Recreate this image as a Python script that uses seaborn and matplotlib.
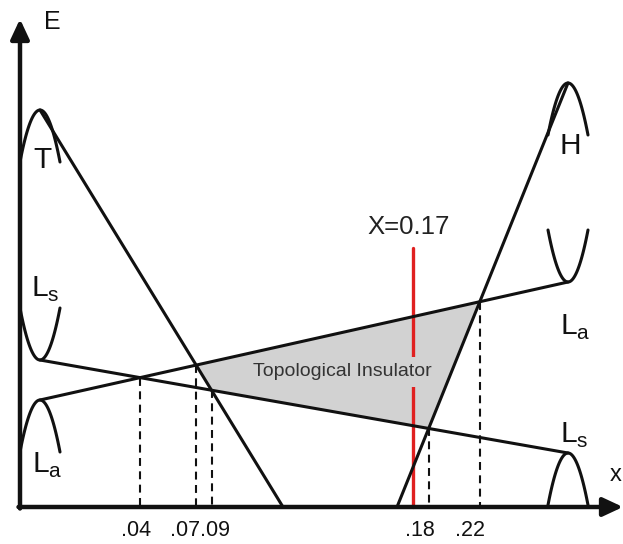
import numpy as np
import pandas as pd
import matplotlib
matplotlib.use("Agg")
import matplotlib.pyplot as plt
import seaborn as sns

# ---- schematic data (u: composition axis, E: energy, arbitrary units) ----
band_names = ["T", "H", "Ls", "La"]
band_u0 = [20, 377, 20, 20]
band_E0 = [397, 0, 147, 107]
band_u1 = [263, 548, 548, 548]
band_E1 = [0, 424, 54, 225]

# parabolic band extrema: vertex and opening (+1 up, -1 down)
para_u = [20, 548, 20, 20, 548, 548]
para_E = [397, 424, 147, 107, 225, 54]
para_dir = [-1, -1, 1, -1, 1, -1]
para_halfwidth = 20
para_depth = 52

# band crossings marked with dashed lines
cross_pairs = [("Ls", "La"), ("T", "La"), ("T", "Ls"), ("H", "Ls"), ("H", "La")]
tick_labels = [".04", ".07", ".09", ".18", ".22"]
tick_label_u = [116, 165, 195, 400, 450]

# topological-insulator region bounded by these crossings
region_pairs = [("T", "La"), ("H", "La"), ("H", "Ls"), ("T", "Ls")]

red_u = 393
red_top = 259
red_label = "X=0.17"

band_labels = ["T", "H", r"L$_\mathregular{s}$", r"L$_\mathregular{a}$",
               r"L$_\mathregular{a}$", r"L$_\mathregular{s}$"]
band_label_u = [22, 550, 11, 12, 540, 540]
band_label_E = [347, 361, 210, 34, 172, 64]
band_label_ha = ["center", "center", "left", "left", "left", "left"]
band_label_va = ["center", "center", "baseline", "baseline", "baseline", "baseline"]

# ---- style ----
sns.set_theme(style="white")
plt.rcParams["font.family"] = ["Liberation Sans", "DejaVu Sans"]
plt.rcParams["mathtext.fontset"] = "custom"
plt.rcParams["mathtext.rm"] = "Liberation Sans"

fig = plt.figure(figsize=(6.23, 5.44), dpi=100)
ax = fig.add_axes([0, 0, 1, 1])
ax.set_xlim(-20, 603)
ax.set_ylim(-37, 507)
ax.set_axis_off()

LW = 2.2
ink = "#111111"

# straight bands
bands = {n: ((a, b), (c, d)) for n, a, b, c, d in zip(band_names, band_u0, band_E0, band_u1, band_E1)}
rows = []
for n, ((a, b), (c, d)) in bands.items():
    rows += [dict(seg=n, u=a, E=b), dict(seg=n, u=c, E=d)]
df_lines = pd.DataFrame(rows)
sns.lineplot(data=df_lines, x="u", y="E", units="seg", estimator=None, sort=False,
             color=ink, lw=LW, ax=ax, zorder=5, legend=False)

# parabolic extrema
rows = []
for i, (pu, pe, pdn) in enumerate(zip(para_u, para_E, para_dir)):
    uu = np.linspace(max(pu - para_halfwidth, 0), pu + para_halfwidth, 60)
    ee = pe + pdn * para_depth * ((uu - pu) / para_halfwidth) ** 2
    rows += [dict(seg=i, u=a, E=b) for a, b in zip(uu, ee)]
df_para = pd.DataFrame(rows)
sns.lineplot(data=df_para, x="u", y="E", units="seg", estimator=None, sort=False,
             color=ink, lw=LW, ax=ax, zorder=5, legend=False)


def cross(n1, n2):
    (a1, b1), (c1, d1) = bands[n1]
    (a2, b2), (c2, d2) = bands[n2]
    m1 = (d1 - b1) / (c1 - a1)
    m2 = (d2 - b2) / (c2 - a2)
    u = (b2 - b1 + m1 * a1 - m2 * a2) / (m1 - m2)
    return u, b1 + m1 * (u - a1)


# shaded region
poly = np.array([cross(*p) for p in region_pairs])
ax.fill(poly[:, 0], poly[:, 1], color="#d2d2d2", lw=0, zorder=1)

# dashed crossing markers
rows = []
for i, p in enumerate(cross_pairs):
    cu, ce = cross(*p)
    rows += [dict(seg=i, u=cu, E=ce), dict(seg=i, u=cu, E=0)]
df_dash = pd.DataFrame(rows)
sns.lineplot(data=df_dash, x="u", y="E", units="seg", estimator=None, sort=False,
             color=ink, lw=1.5, ax=ax, zorder=4, legend=False,
             linestyle=(0, (3.8, 2.6)))

# red composition line
df_red = pd.DataFrame(dict(u=[red_u, red_u], E=[0, red_top]))
sns.lineplot(data=df_red, x="u", y="E", estimator=None, sort=False,
             color="#e02020", lw=2.4, ax=ax, zorder=2)
ax.text(red_u - 4, red_top + 21, red_label, ha="center", va="center", fontsize=18.5, color="#222222")

# region label
ax.text(322, 135, "Topological Insulator", ha="center", va="center", fontsize=14,
        color="#333333", zorder=3,
        bbox=dict(boxstyle="square,pad=0.35", fc="#d2d2d2", ec="none"))

# axes with arrows
arrow = dict(arrowstyle="-|>,head_length=0.6,head_width=0.28", lw=3.2, color=ink,
             mutation_scale=20, shrinkA=0, shrinkB=0)
ax.annotate("", xy=(0, 488), xytext=(0, -1.5), arrowprops=arrow, zorder=6)
ax.annotate("", xy=(603, 0), xytext=(-1.5, 0), arrowprops=arrow, zorder=6)
ax.text(32, 485, "E", ha="center", va="center", fontsize=18, color=ink)
ax.text(590, 32, "x", ha="left", va="center", fontsize=17, color=ink)

# tick labels
for lab, tu in zip(tick_labels, tick_label_u):
    ax.text(tu, -24, lab, ha="center", va="center", fontsize=15.5, color=ink)

# band labels
for lab, lu, le, ha, va in zip(band_labels, band_label_u, band_label_E, band_label_ha, band_label_va):
    ax.text(lu, le, lab, ha=ha, va=va, fontsize=21.5, color=ink)

fig.savefig("out.png", dpi=100)
